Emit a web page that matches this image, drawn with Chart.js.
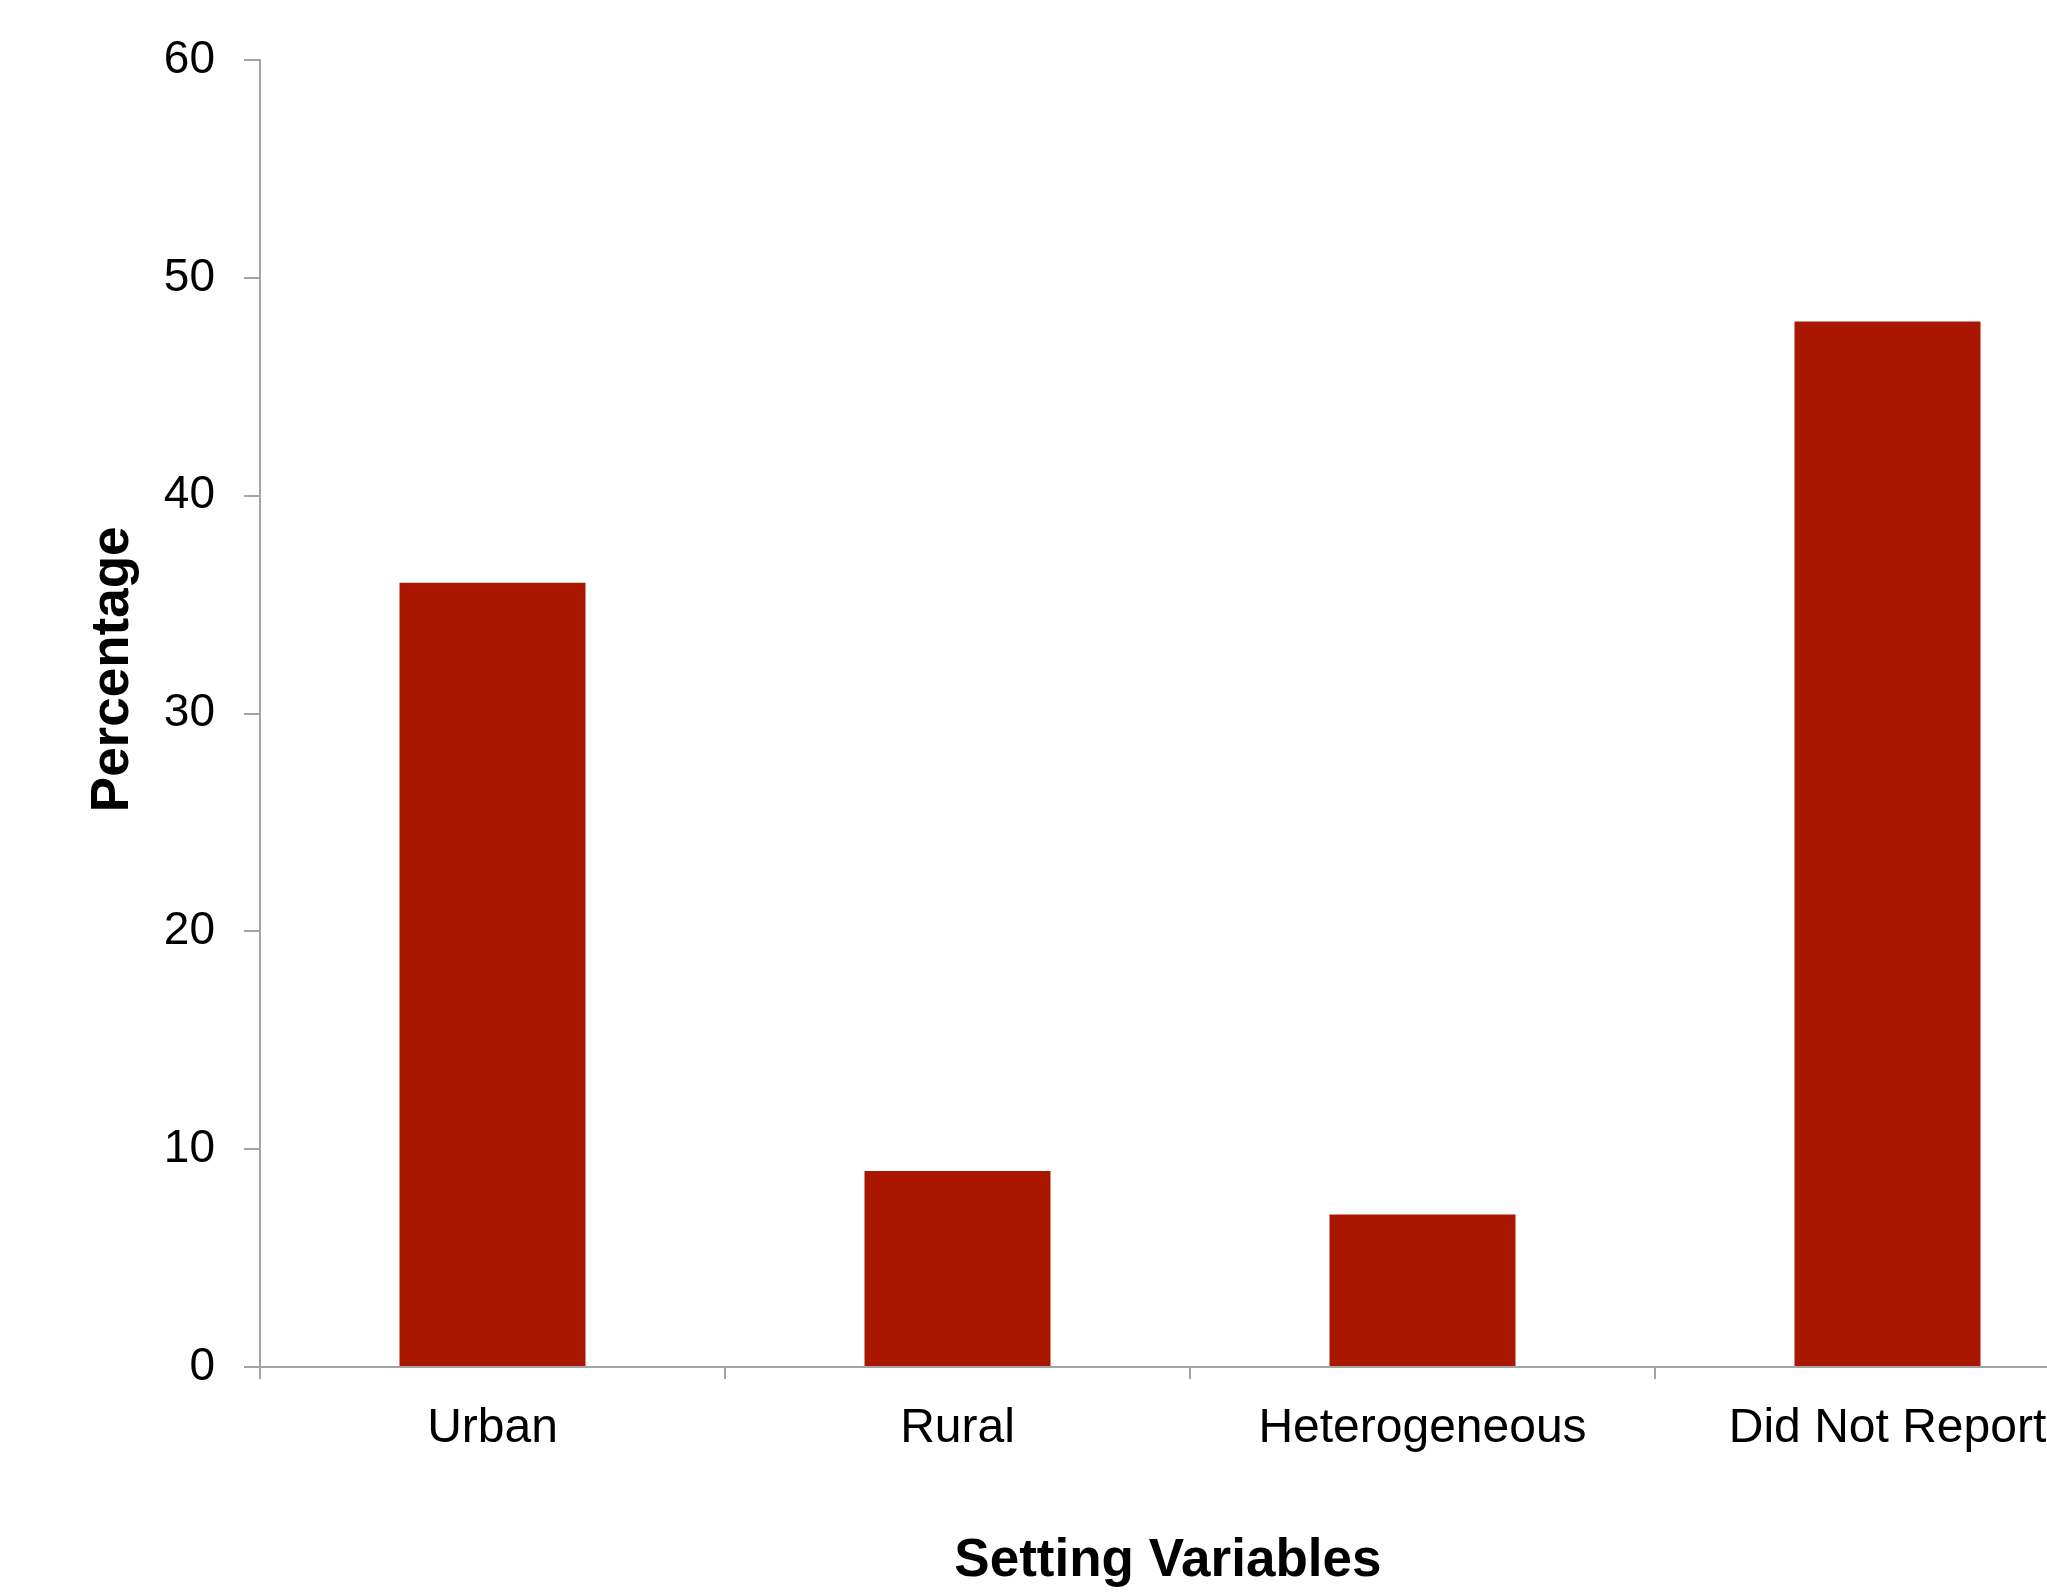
<!DOCTYPE html>
<html>
<head>
<meta charset="utf-8">
<script src="https://cdn.jsdelivr.net/npm/chart.js@4.4.1/dist/chart.umd.min.js"></script>
<style>
  html, body { margin: 0; padding: 0; background: #fff; overflow: hidden; }
  #wrap { width: 2130px; height: 1593px; }
</style>
</head>
<body>
<div id="wrap"><canvas id="settingChart" width="2130" height="1593"></canvas></div>
<script>
// chart data
const categories = ['Urban', 'Rural', 'Heterogeneous', 'Did Not Report'];
const percentages = [36, 9, 7, 48];
const yTicks = [0, 10, 20, 30, 40, 50, 60];

const axisGrey = '#a3a3a3';
const fontFamily = '"Liberation Sans", Arial, Helvetica, sans-serif';

// titles sit a little off-centre in the original, nudge them with spaces
const xTitle = 'Setting Variables' + '   ';
const yTitle = '      ' + 'Percentage';

const settingChart = new Chart(document.getElementById('settingChart'), {
  type: 'bar',
  data: {
    labels: categories,
    datasets: [{
      label: 'Percentage',
      data: percentages,
      backgroundColor: '#aa1700',
      borderWidth: 0,
      categoryPercentage: 1.0,
      barPercentage: 0.4
    }]
  },
  options: {
    responsive: false,
    animation: false,
    devicePixelRatio: 1,
    layout: {
      padding: { top: 60, right: 10, left: 0, bottom: 0 }
    },
    scales: {
      x: {
        grid: {
          drawOnChartArea: false,
          drawTicks: true,
          tickLength: 12,
          color: axisGrey,
          lineWidth: 2
        },
        border: { color: axisGrey, width: 2 },
        ticks: {
          color: '#000',
          padding: 21,
          maxRotation: 0,
          autoSkip: false,
          font: { family: fontFamily, size: 48 }
        },
        title: {
          display: true,
          text: xTitle,
          color: '#000',
          padding: { top: 0, bottom: 0 },
          font: { family: fontFamily, size: 53, weight: 'bold' }
        },
        afterFit: (scale) => { scale.height = 226; }
      },
      y: {
        min: yTicks[0],
        max: yTicks[yTicks.length - 1],
        afterBuildTicks: (scale) => { scale.ticks = yTicks.map(v => ({ value: v })); },
        grid: {
          drawOnChartArea: false,
          drawTicks: true,
          tickLength: 16,
          color: axisGrey,
          lineWidth: 2
        },
        border: { color: axisGrey, width: 2 },
        ticks: {
          color: '#000',
          padding: 29,
          font: { family: fontFamily, size: 46 }
        },
        title: {
          display: true,
          text: yTitle,
          color: '#000',
          padding: { top: 82, bottom: 0 },
          font: { family: fontFamily, size: 53, weight: 'bold' }
        },
        afterFit: (scale) => { scale.width = 260; }
      }
    },
    plugins: {
      legend: { display: false },
      tooltip: { enabled: false }
    }
  }
});
</script>
</body>
</html>
